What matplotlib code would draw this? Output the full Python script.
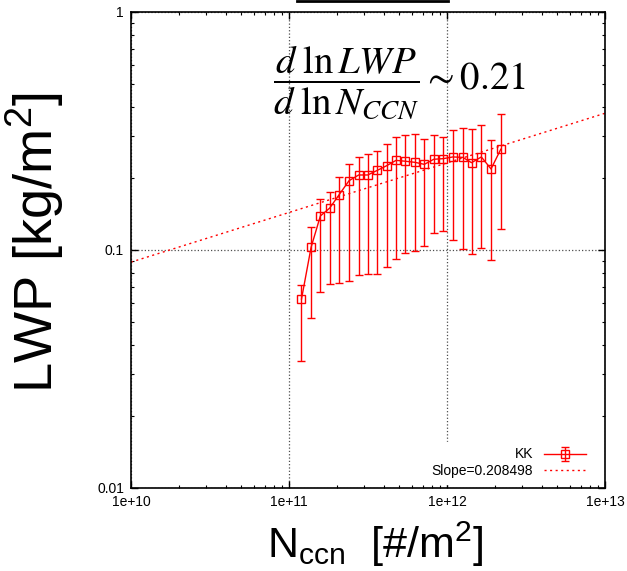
import numpy as np
import matplotlib
matplotlib.use("Agg")
import matplotlib.pyplot as plt
from matplotlib.lines import Line2D

plt.rcParams['font.family'] = ['Liberation Sans', 'DejaVu Sans']
plt.rcParams['mathtext.fontset'] = 'custom'
plt.rcParams['mathtext.rm'] = 'Liberation Sans'
plt.rcParams['mathtext.it'] = 'Liberation Sans:italic'

# binned N_ccn [#/m2] and mean LWP [kg/m2] with error bar ends
nccn = [1.20e11, 1.38e11, 1.58e11, 1.81e11, 2.08e11, 2.40e11, 2.76e11, 3.15e11,
        3.62e11, 4.15e11, 4.76e11, 5.45e11, 6.27e11, 7.19e11, 8.24e11, 9.48e11,
        1.09e12, 1.26e12, 1.43e12, 1.65e12, 1.90e12, 2.19e12]
lwp = [0.0622, 0.1026, 0.139, 0.150, 0.171, 0.1955, 0.2066, 0.2066,
       0.216, 0.226, 0.238, 0.236, 0.2335, 0.229, 0.2405, 0.242,
       0.246, 0.245, 0.2327, 0.246, 0.219, 0.265]
lwp_hi = [0.0713, 0.1245, 0.163, 0.176, 0.202, 0.230, 0.245, 0.253,
          0.2615, 0.280, 0.297, 0.304, 0.306, 0.294, 0.303, 0.299,
          0.319, 0.327, 0.321, 0.336, 0.291, 0.373]
lwp_lo = [0.0342, 0.0516, 0.0666, 0.0720, 0.0727, 0.0741, 0.0787, 0.0796,
          0.0796, 0.0851, 0.0914, 0.0975, 0.0987, 0.104, 0.1175, 0.1198,
          0.110, 0.1013, 0.0959, 0.102, 0.0911, 0.1229]

# power-law fit: log10(LWP) = fit_log10_a + slope * log10(N)
slope = 0.208498
fit_log10_a = -3.136

xticks = [1e10, 1e11, 1e12, 1e13]
xtick_labels = ['1e+10', '1e+11', '1e+12', '1e+13']
yticks = [0.01, 0.1, 1]
ytick_labels = ['0.01', '0.1', '1']

fig = plt.figure(figsize=(6.27, 5.71), dpi=100)
ax = fig.add_axes([0.2089, 0.1454, 0.756, 0.8336])
ax.set_xscale('log')
ax.set_yscale('log')

lwp_arr = np.array(lwp)
yerr = [lwp_arr - np.array(lwp_lo), np.array(lwp_hi) - lwp_arr]
kk = ax.errorbar(nccn, lwp, yerr=yerr, color='red', ecolor='red', lw=1, elinewidth=1,
                 capsize=3, capthick=1, marker='s', markersize=6, mfc='none',
                 mec='red', mew=1, label='KK', zorder=3)

xf = np.logspace(10, 13, 200)
fit, = ax.plot(xf, 10 ** (fit_log10_a + slope * np.log10(xf)), color='red', lw=1,
               ls=(0, (1.5, 2.5)), label='Slope=%g' % slope, zorder=2)

ax.set_xlim(1e10, 1e13)
ax.set_ylim(0.01, 1)
ax.set_xticks(xticks)
ax.set_xticklabels(xtick_labels)
ax.set_yticks(yticks)
ax.set_yticklabels(ytick_labels)
ax.tick_params(which='both', direction='in', top=True, right=True, labelsize=10)
ax.tick_params(which='major', length=5, width=1, pad=5)
ax.tick_params(which='minor', length=2.5, width=0.8)
for s in ax.spines.values():
    s.set_linewidth(1.2)

ax.grid(which='major', ls=':', color='0.3', lw=0.9)
ax.grid(which='minor', visible=False)

ax.set_xlabel(r'N$_{\rm ccn}$  [#/m$^2$]', fontsize=31)
ax.xaxis.set_label_coords(0.515, -0.066, transform=ax.transAxes)
ax.xaxis.label.set_va('top')
ax.set_ylabel(r'LWP [kg/m$^2$]', fontsize=39)
ax.yaxis.set_label_coords(-0.137, 0.515, transform=ax.transAxes)

ax.text(0.30, 0.852, r'$\dfrac{d\;\ln LWP}{d\;\ln N_{CCN}} \sim 0.21$',
        transform=ax.transAxes, fontsize=28, math_fontfamily='stix',
        ha='left', va='center')

leg = ax.legend([kk, fit], ['KK', 'Slope=%g' % slope], loc='lower right',
                bbox_to_anchor=(0.98, 0.0), markerfirst=False, fontsize=10,
                frameon=True, fancybox=False, framealpha=1, edgecolor='white',
                handlelength=3, borderaxespad=0.3, labelspacing=0.2,
                handletextpad=0.8)

fig.add_artist(Line2D([0.4737, 0.7145], [0.999, 0.999], color='black', lw=2))

fig.savefig('out.png', dpi=100)
